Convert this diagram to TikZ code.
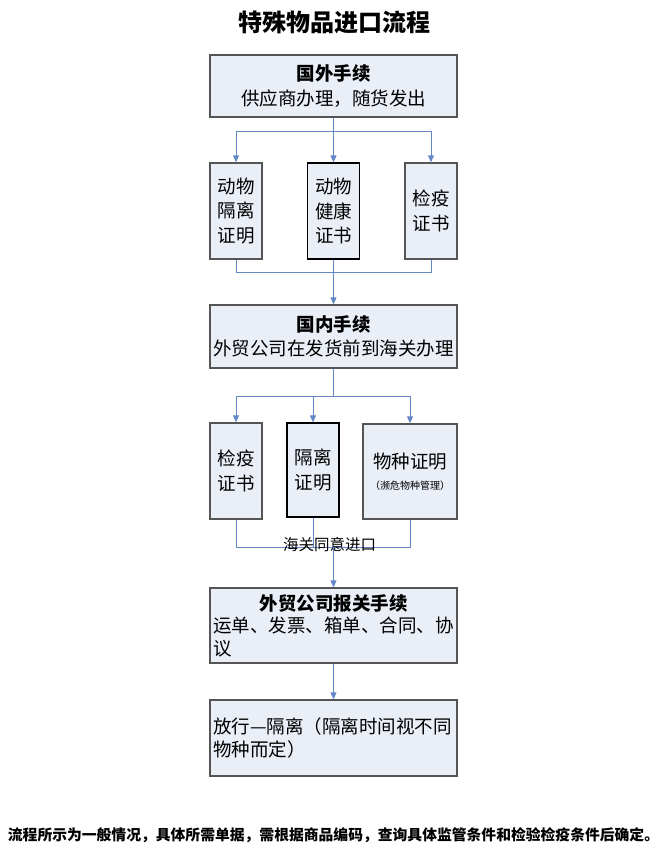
\documentclass[tikz,border=0pt]{standalone}
\usepackage{fontspec}
\setmainfont{Noto Sans CJK SC}
\usetikzlibrary{arrows.meta}
\definecolor{boxfill}{RGB}{233,238,247}
\definecolor{boxline}{RGB}{85,85,85}
\definecolor{linkblue}{RGB}{98,135,196}
\newcommand{\boxfont}{\fontsize{18.5}{24.5}\selectfont}

\begin{document}
\begin{tikzpicture}[x=1pt, y=-1pt,
    stepbox/.style={draw=boxline, fill=boxfill, line width=1.4pt, inner sep=0pt,
      align=center, font=\boxfont},
    wide/.style={stepbox, minimum width=247pt, minimum height=#1},
    narrow/.style={stepbox, minimum width=52pt, minimum height=96pt},
    darkedge/.style={draw=black, line width=1.2pt},
    leftbox/.style={wide=#1, text width=241pt, align=left,
      font=\fontsize{18.5}{22.5}\selectfont},
    link/.style={draw=linkblue, line width=1pt},
    arrow/.style={link, -{Triangle[width=6pt,length=7pt]}}]
  \useasboundingbox (0,0) rectangle (667,863);

  \node[font=\fontsize{24}{28}\selectfont\bfseries] (TITLE) at (334,22) {特殊物品进口流程};

  \node[wide=62pt] (ABROAD) at (333.5,86) {\textbf{国外手续}\\供应商办理，随货发出};
  \node[narrow] (QUAR1) at (236,211) {动物\\隔离\\证明};
  \node[narrow, darkedge] (HEALTH) at (333.5,211) {动物\\健康\\证书};
  \node[narrow] (CERT1) at (431,211) {检疫\\证书};

  \node[wide=63pt] (HOME) at (333.5,336.5) {\textbf{国内手续}\\外贸公司在发货前到海关办理};
  \node[narrow] (CERT2) at (236,471) {检疫\\证书};
  \node[narrow, darkedge, minimum height=94pt] (QUAR2) at (313,470) {隔离\\证明};
  \node[narrow, minimum width=94pt, minimum height=95pt] (SPECIES) at (410,471.5)
    {物种证明\\[-4pt]{\fontsize{10}{12}\selectfont （濒危物种管理）}};

  \node[leftbox=75pt] (CUSTOMS) at (333.5,625.5)
    {\makebox[241pt][c]{\bfseries 外贸公司报关手续}\\运单、发票、箱单、合同、协\\议};
  \node[leftbox=76pt] (RELEASE) at (333.5,738)
    {放行—隔离（隔离时间视不同\\物种而定）};

  \coordinate (J1) at (333.5,131);
  \coordinate (J2) at (333.5,272);
  \coordinate (J3) at (333.5,396);
  \coordinate (J4) at (333.5,547);

  \draw[link] (ABROAD) -- (J1);
  \draw[arrow] (J1) -| (QUAR1);
  \draw[arrow] (J1) -- (HEALTH);
  \draw[arrow] (J1) -| (CERT1);
  \draw[link] (QUAR1) |- (J2);
  \draw[link] (CERT1) |- (J2);
  \draw[arrow] (HEALTH) -- (HOME);

  \draw[link] (HOME) -- (J3);
  \draw[arrow] (J3) -| (CERT2);
  \draw[arrow] (J3) -| (QUAR2);
  \draw[arrow] (J3) -| (SPECIES);
  \draw[link] (CERT2) |- (J4);
  \draw[link] (SPECIES) |- (J4);
  \draw[link] (QUAR2) -- (QUAR2 |- J4);
  \draw[arrow] (J4) -- (CUSTOMS);
  \node[font=\fontsize{15.5}{18}\selectfont] (AGREE) at (329.5,545) {海关同意进口};

  \draw[arrow] (CUSTOMS) -- (RELEASE);

  \node[font=\fontsize{14.8}{17}\selectfont\bfseries] (NOTE) at (333.5,835)
    {流程所示为一般情况，具体所需单据，需根据商品编码，查询具体监管条件和检验检疫条件后确定。};
\end{tikzpicture}
\end{document}
